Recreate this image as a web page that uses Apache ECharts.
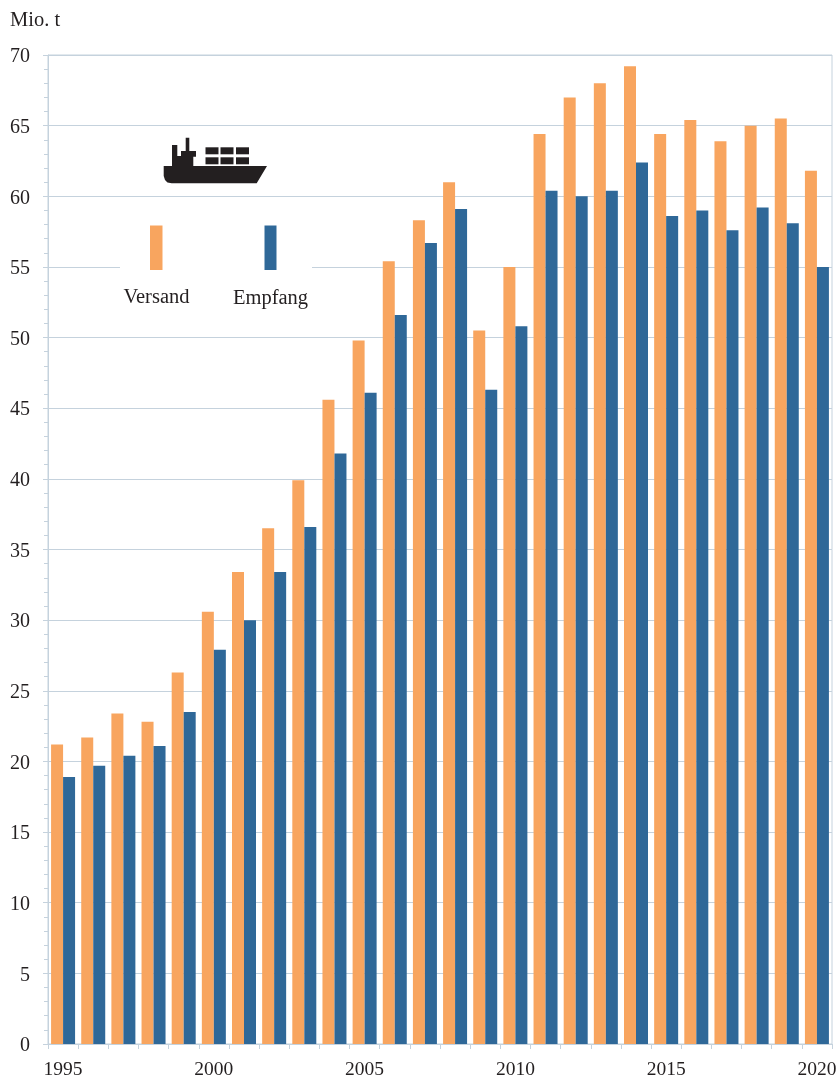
<!DOCTYPE html>
<html>
<head>
<meta charset="utf-8">
<style>
  html, body { margin: 0; padding: 0; background: #fff; }
  #chart { width: 840px; height: 1080px; }
</style>
<script src="https://cdn.jsdelivr.net/npm/echarts@6/dist/echarts.min.js"></script>
</head>
<body>
<div id="chart"></div>
<script>
var years = ['1995', '1996', '1997', '1998', '1999', '2000', '2001', '2002', '2003', '2004', '2005', '2006', '2007',
  '2008', '2009', '2010', '2011', '2012', '2013', '2014', '2015', '2016', '2017', '2018', '2019', '2020']
var versand = [21.2, 21.7, 23.4, 22.8, 26.3, 30.6, 33.4, 36.5, 39.9, 45.6, 49.8, 55.4, 58.3,
  61.0, 50.5, 55.0, 64.4, 67.0, 68.0, 69.2, 64.4, 65.4, 63.9, 65.0, 65.5, 61.8]
var empfang = [18.9, 19.7, 20.4, 21.1, 23.5, 27.9, 30.0, 33.4, 36.6, 41.8, 46.1, 51.6, 56.7,
  59.1, 46.3, 50.8, 60.4, 60.0, 60.4, 62.4, 58.6, 59.0, 57.6, 59.2, 58.1, 55.0]

var ORANGE = '#F8A55F'
var BLUE = '#2F6898'
var AXIS = '#C5D2DD'
var TEXT = '#231F20'
var FONT = '"Liberation Serif", "Times New Roman", serif'

var chart = echarts.init(document.getElementById('chart'), null, { renderer: 'canvas' })

// ship icon
var ink = { fill: '#231F20' }
var ship = [
  { type: 'polygon', shape: { points: [[163.7, 166], [172, 166], [172, 145], [177.3, 145], [177.3, 156], [181, 156], [181, 151],
    [185.7, 151], [185.7, 137.7], [189.3, 137.7], [189.3, 151], [196, 151], [196, 156.7], [193.3, 156.7], [193.3, 166],
    [267, 166], [256.7, 183.3], [171.7, 183.3], [167.5, 182.5], [165, 180], [163.7, 176]] }, style: ink }
]
var containerX = [205.5, 220.5, 236]
var containerY = [147.3, 157.3]
containerY.forEach(function (y) {
  containerX.forEach(function (x) {
    ship.push({ type: 'rect', shape: { x: x, y: y, width: 13, height: 7 }, style: ink })
  })
})

var legend = [
  { type: 'rect', shape: { x: 120, y: 260, width: 192, height: 14 }, style: { fill: '#fff' }, z: 100 },
  { type: 'rect', shape: { x: 150, y: 225.5, width: 12.5, height: 44.5 }, style: { fill: ORANGE }, z: 101 },
  { type: 'rect', shape: { x: 264.5, y: 225.5, width: 12, height: 44.5 }, style: { fill: BLUE }, z: 101 },
  { type: 'text', x: 156.5, y: 298, style: { text: 'Versand', fill: TEXT, font: '20.5px ' + FONT, textAlign: 'center', textVerticalAlign: 'middle' }, z: 101 },
  { type: 'text', x: 270.5, y: 299, style: { text: 'Empfang', fill: TEXT, font: '20.5px ' + FONT, textAlign: 'center', textVerticalAlign: 'middle' }, z: 101 },
  { type: 'text', x: 10, y: 21, style: { text: 'Mio. t', fill: TEXT, font: '20.5px ' + FONT, textAlign: 'left', textVerticalAlign: 'middle' }, z: 101 }
]

var options = {
  animation: false,
  backgroundColor: '#fff',
  textStyle: { fontFamily: FONT },
  grid: {
    left: 48,
    right: 8,
    top: 55,
    bottom: 35,
    containLabel: false,
    show: true,
    borderColor: AXIS,
    borderWidth: 1
  },
  xAxis: {
    type: 'category',
    data: years,
    boundaryGap: true,
    axisLine: { show: true, lineStyle: { color: AXIS, width: 1 } },
    axisTick: { show: true, interval: 0, alignWithLabel: false, length: 5, lineStyle: { color: AXIS } },
    axisLabel: { interval: 4, color: TEXT, fontSize: 19.5, fontFamily: FONT, margin: 16 },
    splitLine: { show: false }
  },
  yAxis: {
    type: 'value',
    min: 0,
    max: 70,
    interval: 5,
    axisLine: { show: true, lineStyle: { color: AXIS, width: 1 } },
    axisTick: { show: true, length: 5, lineStyle: { color: AXIS } },
    minorTick: { show: true, splitNumber: 5, length: 4, lineStyle: { color: AXIS } },
    axisLabel: {
      margin: 18,
      formatter: '{n|{value}}',
      rich: { n: { color: TEXT, fontSize: 20, fontFamily: FONT, padding: [4, 0, 0, 0] } }
    },
    splitLine: { show: true, lineStyle: { color: AXIS, width: 1 } }
  },
  series: [ {
    name: 'Versand',
    type: 'bar',
    data: versand,
    barWidth: 12,
    barGap: 0,
    itemStyle: { color: ORANGE }
  }, {
    name: 'Empfang',
    type: 'bar',
    data: empfang,
    barWidth: 12,
    barGap: 0,
    itemStyle: { color: BLUE }
  } ],
  graphic: ship.concat(legend)
}

chart.setOption(options)
</script>
</body>
</html>
